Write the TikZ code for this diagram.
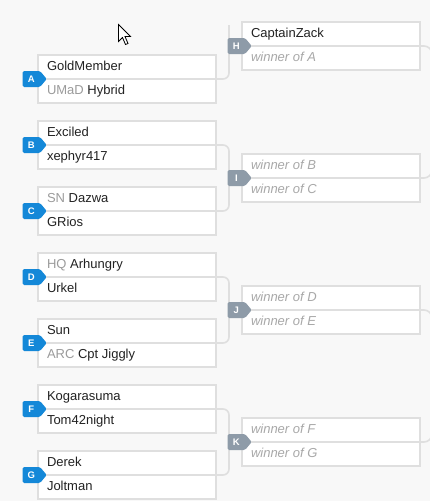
\documentclass[tikz,border=0pt]{standalone}
\usepackage{fontspec}
\setmainfont{Liberation Sans}
\usetikzlibrary{positioning, shapes.symbols}
\definecolor{pagebg}{HTML}{F8F8F8}
\definecolor{slotline}{HTML}{DFDFDF}
\definecolor{seedblue}{HTML}{1488D8}
\definecolor{seedgray}{HTML}{8E9BA8}
\definecolor{tagtext}{HTML}{9B9B9B}
\definecolor{nametext}{HTML}{222222}
\definecolor{tbdtext}{HTML}{A8A8A8}
\tikzset{slot/.style={draw=slotline, line width=1.6pt, fill=white, outer sep=0pt,
    inner xsep=9pt, inner ysep=0pt, text width=160pt, minimum height=24pt,
    text height=9.5pt, text depth=2.5pt, align=flush left,
    font=\fontsize{13}{15}\selectfont, text=nametext}}
\tikzset{tbd/.style={slot, text=tbdtext, font=\fontsize{13}{15}\selectfont\itshape}}
\tikzset{seed/.style={signal, signal to=east, signal pointer angle=100, fill=seedblue,
    text=white, font=\fontsize{9.5}{10}\selectfont\bfseries, minimum height=16pt,
    minimum width=24pt, inner sep=0pt, rounded corners=1.5pt}}
\tikzset{seedgr/.style={seed, fill=seedgray}}
\tikzset{wire/.style={draw=slotline, line width=1.6pt, rounded corners=6pt}}
\newcommand{\clan}[1]{{\color{tagtext}#1}\ }

\begin{document}
\begin{tikzpicture}[x=1pt, y=-1pt]

  \fill[pagebg] (0,0) rectangle (430,501);
  \clip (0,0) rectangle (430,501);

  % first round
  \node[slot] (a1) at (127,67) {GoldMember};
  \node[slot, below=0pt of a1] (a2) {\clan{UMaD}Hybrid};
  \node[slot, below=18pt of a2] (b1) {Exciled};
  \node[slot, below=0pt of b1] (b2) {xephyr417};
  \node[slot, below=18pt of b2] (c1) {\clan{SN}Dazwa};
  \node[slot, below=0pt of c1] (c2) {GRios};
  \node[slot, below=18pt of c2] (d1) {\clan{HQ}Arhungry};
  \node[slot, below=0pt of d1] (d2) {Urkel};
  \node[slot, below=18pt of d2] (e1) {Sun};
  \node[slot, below=0pt of e1] (e2) {\clan{ARC}Cpt Jiggly};
  \node[slot, below=18pt of e2] (f1) {Kogarasuma};
  \node[slot, below=0pt of f1] (f2) {Tom42night};
  \node[slot, below=18pt of f2] (g1) {Derek};
  \node[slot, below=0pt of g1] (g2) {Joltman};

  % second round
  \node[slot] (h1) at (331,34) {CaptainZack};
  \node[tbd, below=0pt of h1] (h2) {winner of A};
  \node[tbd, below=84pt of h2] (i1) {winner of B};
  \node[tbd, below=0pt of i1] (i2) {winner of C};
  \node[tbd, below=84pt of i2] (j1) {winner of D};
  \node[tbd, below=0pt of j1] (j2) {winner of E};
  \node[tbd, below=84pt of j2] (k1) {winner of F};
  \node[tbd, below=0pt of k1] (k2) {winner of G};

  % brackets
  \coordinate (hTop) at (229,25);
  \draw[wire] (a1.south east) -| (hTop);
  \draw[wire] (b1.south east) -- ++(13,0) |- (c1.south east);
  \draw[wire] (d1.south east) -- ++(13,0) |- (e1.south east);
  \draw[wire] (f1.south east) -- ++(13,0) |- (g1.south east);
  \draw[wire, rounded corners=8pt] (h1.south east) -- ++(12,0) -- ++(0,20);
  \draw[wire, rounded corners=8pt] (i1.south east) -- ++(12,0) -- ++(0,-20);
  \draw[wire, rounded corners=8pt] (j1.south east) -- ++(12,0) -- ++(0,20);
  \draw[wire, rounded corners=8pt] (k1.south east) -- ++(12,0) -- ++(0,-20);

  % seeds
  \node[seed, left=-9pt of a1.south west] (sA) {A};
  \node[seed, left=-9pt of b1.south west] (sB) {B};
  \node[seed, left=-9pt of c1.south west] (sC) {C};
  \node[seed, left=-9pt of d1.south west] (sD) {D};
  \node[seed, left=-9pt of e1.south west] (sE) {E};
  \node[seed, left=-9pt of f1.south west] (sF) {F};
  \node[seed, left=-9pt of g1.south west] (sG) {G};
  \node[seedgr, left=-10pt of h1.south west] (sH) {H};
  \node[seedgr, left=-10pt of i1.south west] (sI) {I};
  \node[seedgr, left=-10pt of j1.south west] (sJ) {J};
  \node[seedgr, left=-10pt of k1.south west] (sK) {K};

  % mouse pointer
  \draw[fill=white, line width=0.8pt, line join=miter] (118.5,24.5) -- ++(0,17)
    -- ++(4,-4) -- ++(3,7) -- ++(2.5,-1) -- ++(-3,-7) -- ++(5.5,0) -- cycle;

\end{tikzpicture}
\end{document}
